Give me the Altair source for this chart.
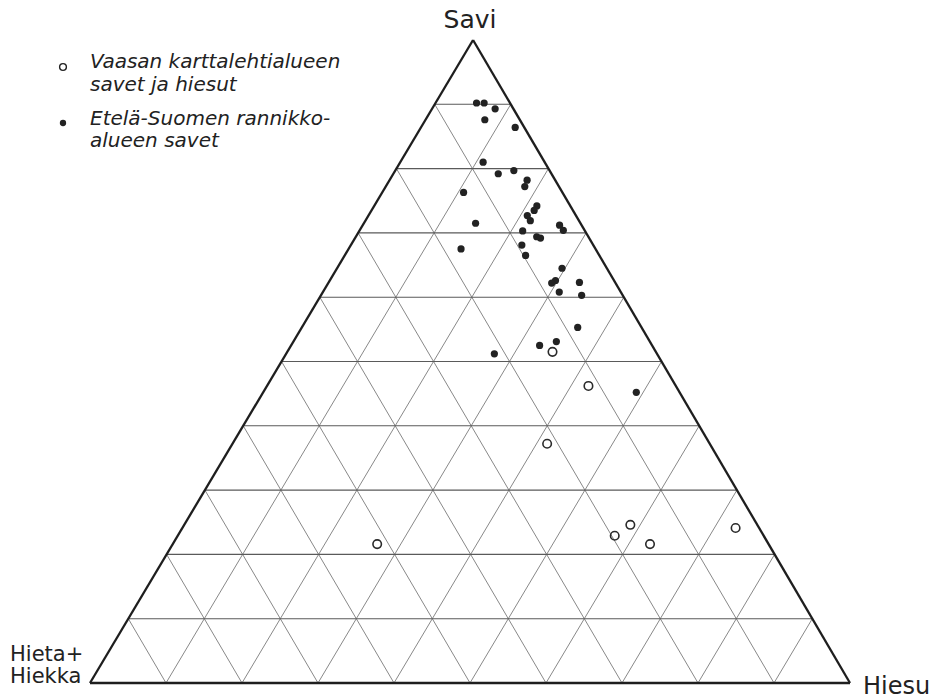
import altair as alt
import pandas as pd

# Grain-size composition (%) — Vaasa map-sheet clays and silts (open circles)
vaasa_savi = [51.5, 46.2, 37.2, 21.6, 22.9, 24.6, 21.6, 24.1]
vaasa_hiesu = [34.9, 42.3, 41.4, 26.9, 57.5, 58.7, 62.8, 72.8]
vaasa_hieta = [13.6, 11.5, 21.4, 51.5, 19.6, 16.7, 15.6, 3.1]

# Grain-size composition (%) — South Finland coastal clays (filled dots)
etela_savi = [90.2, 90.2, 89.3, 87.6, 86.4, 81.0, 79.2, 79.7, 78.2, 77.2,
              76.3, 74.2, 73.5, 72.7, 71.9, 71.5, 71.2, 70.4, 70.3, 69.4,
              69.2, 68.1, 67.5, 66.5, 64.5, 62.6, 62.2, 62.3, 60.8, 60.3,
              55.3, 52.5, 53.1, 51.2, 45.2]
etela_hiesu = [5.4, 6.4, 8.3, 7.8, 12.4, 10.9, 13.8, 15.6, 18.1, 18.3,
               10.7, 21.4, 21.4, 20.9, 21.7, 14.7, 25.9, 26.8, 21.5, 23.8,
               24.4, 22.5, 14.8, 23.8, 29.6, 29.7, 29.4, 33.0, 31.1, 34.3,
               36.3, 32.7, 34.6, 27.4, 49.1]
etela_hieta = [4.4, 3.4, 2.4, 4.6, 1.2, 8.1, 7.0, 4.7, 3.7, 4.5,
               13.0, 4.4, 5.1, 6.4, 6.4, 13.8, 2.9, 2.8, 8.2, 6.8,
               6.4, 9.4, 17.7, 9.7, 5.9, 7.7, 8.4, 4.7, 8.1, 5.4,
               8.4, 14.8, 12.3, 21.4, 5.7]

# Grid spacing of the triangle (%)
grid_levels = [10, 20, 30, 40, 50, 60, 70, 80, 90]

# Horizontal offset of the apex relative to the base (fraction of Savi)
APEX_SHIFT = 0.504


def tx(savi, hiesu):
    """Ternary -> cartesian x (0..100 along the base)."""
    return hiesu + APEX_SHIFT * savi


def pts(savi, hiesu, hieta):
    df = pd.DataFrame({"Savi": savi, "Hiesu": hiesu, "Hieta+Hiekka": hieta})
    df["x"] = tx(df["Savi"], df["Hiesu"])
    df["y"] = df["Savi"]
    return df


def seg(s1, h1, s2, h2):
    return {"x": tx(s1, h1), "y": s1, "x2": tx(s2, h2), "y2": s2}


# Grid segments: constant Savi, constant Hiesu, constant Hieta+Hiekka
horiz = pd.DataFrame([seg(k, 0, k, 100 - k) for k in grid_levels])
diag = pd.DataFrame(
    [seg(0, k, 100 - k, k) for k in grid_levels]
    + [seg(0, 100 - k, 100 - k, 0) for k in grid_levels]
)
frame = pd.DataFrame([seg(0, 0, 0, 100), seg(0, 0, 100, 0), seg(0, 100, 100, 0)])

vaasa = pts(vaasa_savi, vaasa_hiesu, vaasa_hieta)
etela = pts(etela_savi, etela_hiesu, etela_hieta)

xs = alt.Scale(domain=[0, 100], nice=False, zero=False)
ys = alt.Scale(domain=[0, 100], nice=False, zero=False)
X = alt.X("x:Q", scale=xs, axis=None)
Y = alt.Y("y:Q", scale=ys, axis=None)


def rules(df, color, width):
    return alt.Chart(df).mark_rule(color=color, strokeWidth=width).encode(
        x=X, y=Y, x2="x2:Q", y2="y2:Q"
    )


grid_h = rules(horiz, "#5a5a5a", 1.1)
grid_d = rules(diag, "#7a7a7a", 0.9)
border = rules(frame, "#1e1e1e", 2.3)

open_pts = alt.Chart(vaasa).mark_point(
    shape="circle", size=72, filled=False, color="#2a2a2a", strokeWidth=1.6, opacity=1
).encode(x=X, y=Y, tooltip=["Savi", "Hiesu", "Hieta+Hiekka"])

dot_pts = alt.Chart(etela).mark_point(
    shape="circle", size=52, filled=True, color="#222222", opacity=1
).encode(x=X, y=Y, tooltip=["Savi", "Hiesu", "Hieta+Hiekka"])

one = alt.Data(values=[{}])
VFONT = "DejaVu Sans"
INK = "#222222"


def label(text, x, y, size, align="left", italic=False):
    return alt.Chart(one).mark_text(
        text=text, font=VFONT, fontSize=size, align=align, baseline="alphabetic",
        color=INK, fontStyle="italic" if italic else "normal",
    ).encode(x=alt.value(x), y=alt.value(y))


def symbol(x, y, filled, size):
    return alt.Chart(one).mark_point(
        shape="circle", size=size, filled=filled, color=INK,
        strokeWidth=1.4, opacity=1,
    ).encode(x=alt.value(x), y=alt.value(y))


# Corner labels
labels = [
    label("Savi", 380, -12, 25, align="center"),
    label("Hiesu", 773, 654, 24),
    label("Hieta+", -80, 621, 21),
    label("Hiekka", -80, 643, 21),
]

# Legend block, top left
legend = [
    symbol(-27, 27, False, 46),
    symbol(-27, 83, True, 40),
    label("Vaasan karttalehtialueen", 0, 28, 20, italic=True),
    label("savet ja hiesut", 0, 51, 20, italic=True),
    label("Etelä-Suomen rannikko-", 0, 85, 20, italic=True),
    label("alueen savet", 0, 107, 20, italic=True),
]

chart = alt.layer(
    grid_d, grid_h, border, open_pts, dot_pts, *labels, *legend
).properties(
    width=760,
    height=643,
    autosize=alt.AutoSizeParams(type="none"),
    padding={"left": 90, "top": 40, "right": 89, "bottom": 16},
    background="white",
).configure_view(stroke=None)

chart.save("out.html", embed_options={"renderer": "svg", "actions": False})
